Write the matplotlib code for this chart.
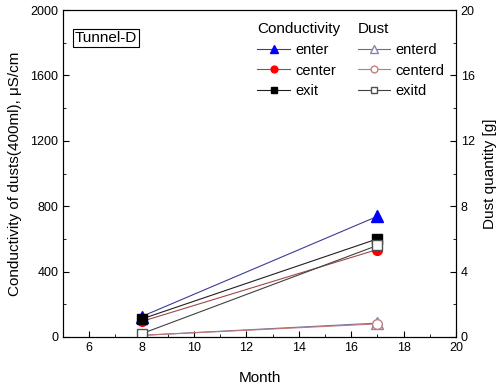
import matplotlib
matplotlib.use('Agg')
import matplotlib.pyplot as plt
from matplotlib.ticker import MultipleLocator

plt.rcParams['font.family'] = ['Liberation Sans', 'DejaVu Sans']

months = [8, 17]
enter = [125, 738]
center = [95, 535]
exit_ = [110, 600]
enterd = [0.1, 0.85]
centerd = [0.1, 0.8]
exitd = [0.2, 5.6]

fig = plt.figure(figsize=(5.01, 3.86), dpi=100)
ax = fig.add_axes([0.126, 0.127, 0.784, 0.847])
ax2 = ax.twinx()

l1, = ax.plot(months, enter, color='#3c3c96', lw=0.8, marker='^', ms=8,
              mfc='#0000ff', mec='#0000ff', label='enter', zorder=3)
l2, = ax.plot(months, center, color='#a04848', lw=0.8, marker='o', ms=7,
              mfc='#ff0000', mec='#ff0000', label='center', zorder=3)
l3, = ax.plot(months, exit_, color='#202020', lw=0.8, marker='s', ms=7,
              mfc='black', mec='black', label='exit', zorder=4)

d1, = ax2.plot(months, enterd, color='#6a6aa8', lw=0.8, marker='^', ms=8,
               mfc='white', mec='#9080b0', label='enterd')
d2, = ax2.plot(months, centerd, color='#c07878', lw=0.8, marker='o', ms=7,
               mfc='white', mec='#c08080', label='centerd')
d3, = ax2.plot(months, exitd, color='#404040', lw=0.8, marker='s', ms=7,
               mfc='white', mec='#505050', label='exitd')

ax.set_xlim(5, 20)
ax.set_ylim(0, 2000)
ax2.set_ylim(0, 20)
ax.xaxis.set_major_locator(MultipleLocator(2))
ax.xaxis.set_minor_locator(MultipleLocator(1))
ax.yaxis.set_major_locator(MultipleLocator(400))
ax.yaxis.set_minor_locator(MultipleLocator(200))
ax2.yaxis.set_major_locator(MultipleLocator(4))
ax2.yaxis.set_minor_locator(MultipleLocator(2))

ax.tick_params(which='both', direction='in', labelsize=9, top=False)
ax.tick_params(which='major', length=4)
ax.tick_params(which='minor', length=2.5)
ax2.tick_params(which='both', direction='in', labelsize=9)
ax2.tick_params(which='major', length=4)
ax2.tick_params(which='minor', length=2.5)

ax.set_xlabel('Month', fontsize=11, labelpad=12)
ax.set_ylabel('Conductivity of dusts(400ml), \u03bcS/cm', fontsize=11, labelpad=6)
ax2.set_ylabel('Dust quantity [g]', fontsize=11, labelpad=6)

ax.text(0.03, 0.915, 'Tunnel-D', transform=ax.transAxes, fontsize=11,
        va='center', ha='left',
        bbox=dict(boxstyle='square,pad=0.15', fc='white', ec='black', lw=0.8))

leg1 = ax2.legend(handles=[l1, l2, l3], title='Conductivity', loc='upper left',
                  bbox_to_anchor=(0.48, 0.98), frameon=False, fontsize=10.5,
                  title_fontsize=11, handlelength=2.2, handletextpad=0.4,
                  labelspacing=0.45, borderaxespad=0, markerscale=0.7)
leg1._legend_box.align = 'left'
ax2.add_artist(leg1)
leg2 = ax2.legend(handles=[d1, d2, d3], title='Dust', loc='upper left',
                  bbox_to_anchor=(0.735, 0.98), frameon=False, fontsize=10.5,
                  title_fontsize=11, handlelength=2.2, handletextpad=0.4,
                  labelspacing=0.45, borderaxespad=0, markerscale=0.7)
leg2._legend_box.align = 'left'

fig.savefig('out.png', dpi=100)
